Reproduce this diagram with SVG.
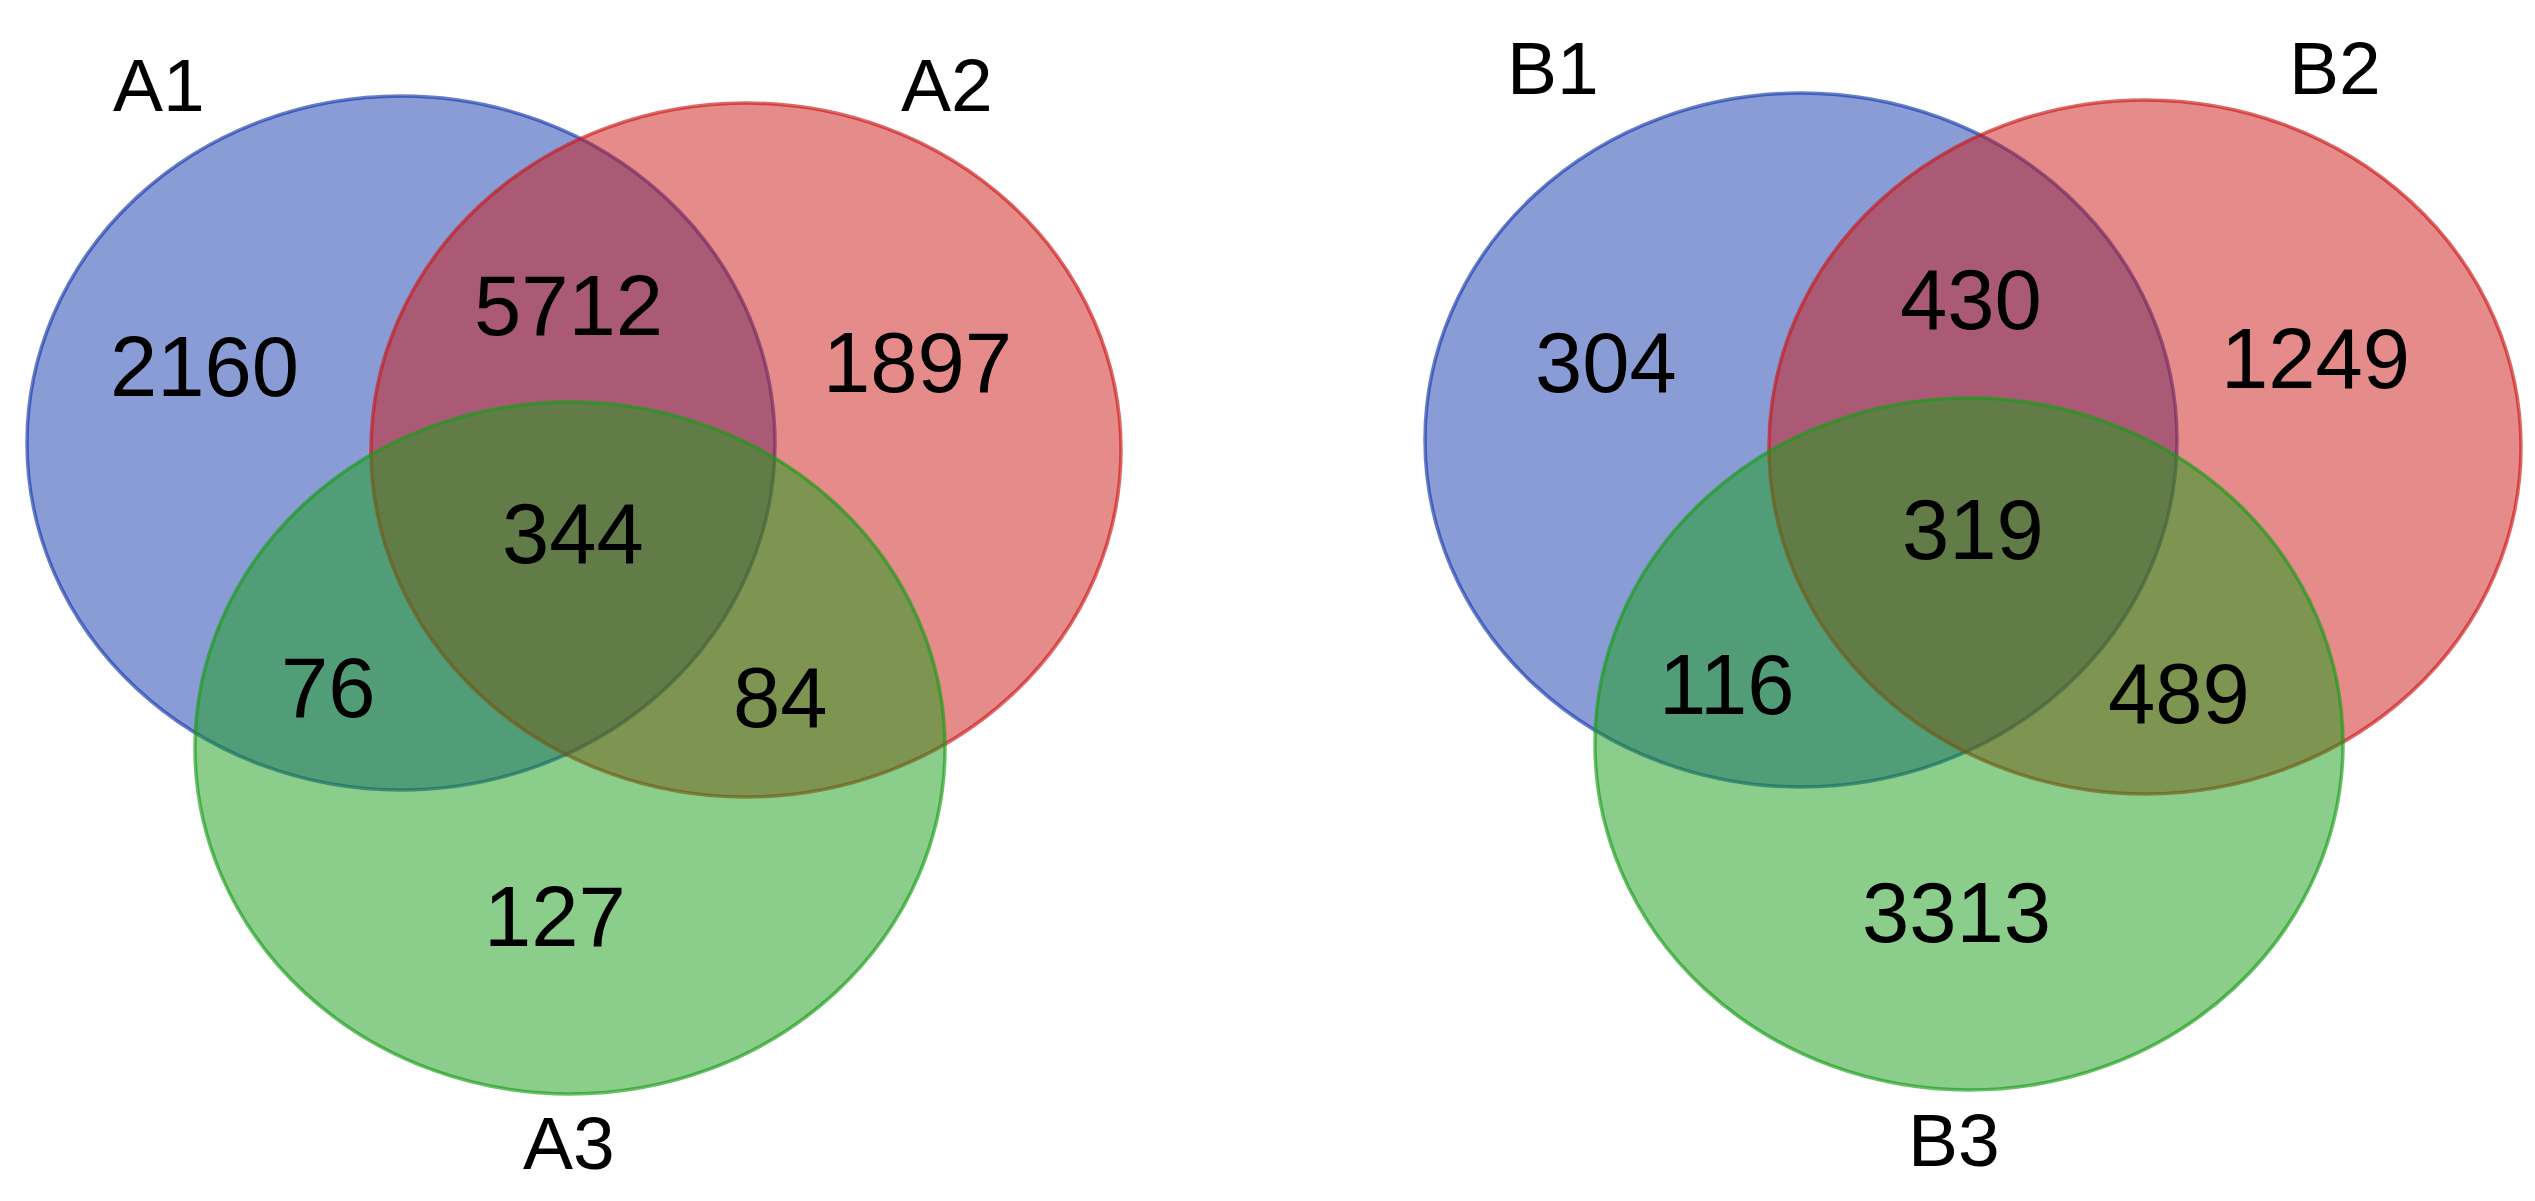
<svg xmlns="http://www.w3.org/2000/svg" width="2535" height="1201" viewBox="0 0 2535 1201">
<style>
.set{stroke-width:3.5;fill-opacity:0.5;stroke-opacity:0.65}
.blue{fill:#1539ad;stroke:#1539ad}
.red{fill:#cb1715;stroke:#cb1715}
.green{fill:#179d17;stroke:#179d17}
.lbl{font-family:"Liberation Sans",Arial,sans-serif;font-size:75px;fill:#000}
.num{font-family:"Liberation Sans",Arial,sans-serif;font-size:85px;fill:#000}
</style>
<rect width="2535" height="1201" fill="#fff"/>
<g id="venn-A">
<g id="A1"><ellipse class="set blue" cx="401" cy="443" rx="374" ry="347"/><text class="lbl" x="113" y="111">A1</text></g>
<g id="A2"><ellipse class="set red" cx="746" cy="450" rx="375" ry="347"/><text class="lbl" x="901" y="111">A2</text></g>
<g id="A3"><ellipse class="set green" cx="570" cy="748" rx="375" ry="346"/><text class="lbl" x="523" y="1169">A3</text></g>
<g id="A-counts">
<text class="num" x="110" y="396">2160</text>
<text class="num" x="474" y="335">5712</text>
<text class="num" x="823" y="392">1897</text>
<text class="num" x="502" y="563">344</text>
<text class="num" x="281" y="717">76</text>
<text class="num" x="733" y="727">84</text>
<text class="num" x="484" y="946">127</text>
</g>
</g>
<g id="venn-B">
<g id="B1"><ellipse class="set blue" cx="1801" cy="440" rx="376" ry="347"/><text class="lbl" x="1507" y="94">B1</text></g>
<g id="B2"><ellipse class="set red" cx="2145" cy="447" rx="376" ry="347"/><text class="lbl" x="2289" y="94">B2</text></g>
<g id="B3"><ellipse class="set green" cx="1969" cy="744" rx="374" ry="346"/><text class="lbl" x="1908" y="1166">B3</text></g>
<g id="B-counts">
<text class="num" x="1535" y="392">304</text>
<text class="num" x="1900" y="329">430</text>
<text class="num" x="2221" y="388">1249</text>
<text class="num" x="1902" y="559">319</text>
<text class="num" x="1659" y="714">116</text>
<text class="num" x="2108" y="723">489</text>
<text class="num" x="1862" y="942">3313</text>
</g>
</g>
</svg>
